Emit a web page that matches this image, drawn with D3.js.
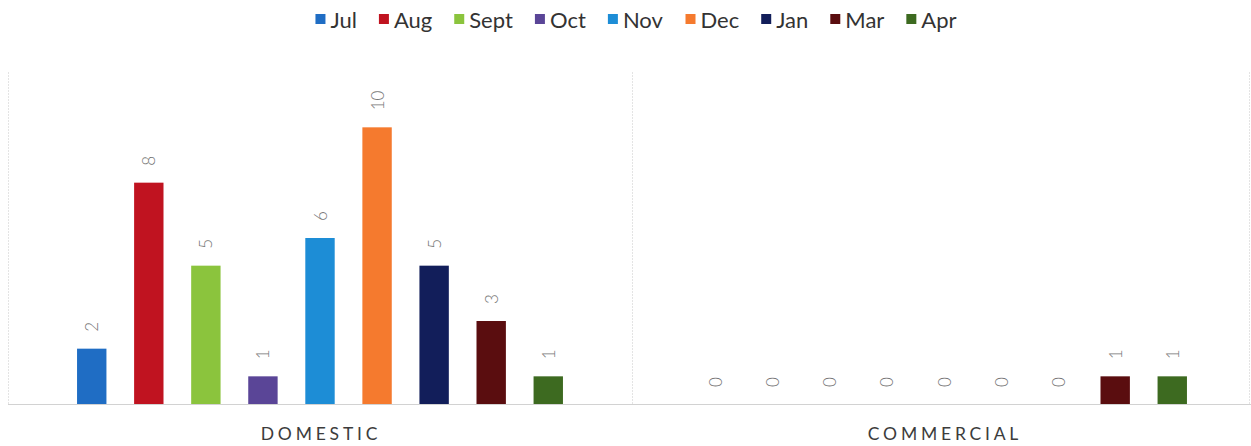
<!DOCTYPE html>
<html>
<head>
<meta charset="utf-8">
<script src="https://cdn.jsdelivr.net/npm/d3@7"></script>
<style>
  html, body { margin: 0; padding: 0; background: #ffffff; }
  svg { display: block; }
</style>
</head>
<body>
<svg id="chart" width="1251" height="446"></svg>
<script>
// Monthly counts per customer type
const categories = ["DOMESTIC", "COMMERCIAL"];
const months = ["Jul", "Aug", "Sept", "Oct", "Nov", "Dec", "Jan", "Mar", "Apr"];
const domesticValues = [2, 8, 5, 1, 6, 10, 5, 3, 1];
const commercialValues = [0, 0, 0, 0, 0, 0, 0, 1, 1];
const monthColors = ["#1f6dc4", "#c01320", "#8bc43d", "#5a4597", "#1d8dd6", "#f57a2e", "#121e5a", "#5a0d0f", "#3d6a20"];
const yTicks = [0, 12];

const seriesByCategory = [domesticValues, commercialValues];

const svg = d3.select("#chart");
const W = 1251, H = 446;
const plot = { left: 8, top: 72, bottom: 404 };
const bandWidth = 624;

const x0 = d3.scaleBand()
  .domain(categories)
  .range([plot.left, plot.left + bandWidth * categories.length])
  .paddingInner(0).paddingOuter(0);

const x1 = d3.scaleBand()
  .domain(months)
  .range([0, x0.bandwidth()])
  .paddingInner(0.485)
  .paddingOuter(1.21);

const y = d3.scaleLinear()
  .domain(d3.extent(yTicks))
  .range([plot.bottom, plot.top]);

const color = d3.scaleOrdinal().domain(months).range(monthColors);

// Category dividers (faint vertical gridlines)
const dividers = [x0.range()[0], ...categories.slice(1).map(c => x0(c)), W - 2];
svg.append("g")
  .selectAll("line")
  .data(dividers)
  .join("line")
  .attr("x1", d => d + 0.5).attr("x2", d => d + 0.5)
  .attr("y1", y(12)).attr("y2", y(0))
  .attr("stroke", "#e4e4e4")
  .attr("stroke-width", 1)
  .attr("stroke-dasharray", "2,1");

// Baseline
svg.append("line")
  .attr("x1", plot.left).attr("x2", W)
  .attr("y1", y(0) + 0.5).attr("y2", y(0) + 0.5)
  .attr("stroke", "#d2d2d2")
  .attr("stroke-width", 1.2);

// Bars and rotated value labels
const groups = svg.append("g")
  .selectAll("g")
  .data(categories.map((c, i) => ({ cat: c, values: seriesByCategory[i] })))
  .join("g")
  .attr("transform", d => `translate(${x0(d.cat)},0)`);

groups.selectAll("rect")
  .data(d => months.map((m, j) => ({ month: m, value: d.values[j] })))
  .join("rect")
  .attr("x", d => x1(d.month))
  .attr("y", d => y(d.value))
  .attr("width", x1.bandwidth())
  .attr("height", d => y(0) - y(d.value))
  .attr("fill", d => color(d.month));

groups.selectAll("text")
  .data(d => months.map((m, j) => ({ month: m, value: d.values[j] })))
  .join("text")
  .attr("transform", d => `translate(${x1(d.month) + x1.bandwidth() / 2},${y(d.value) - 17}) rotate(-90)`)
  .attr("text-anchor", "start")
  .attr("dominant-baseline", "central")
  .attr("font-family", "Lato, 'Open Sans', sans-serif")
  .attr("font-weight", 300)
  .attr("font-size", 17)
  .attr("fill", "#767676")
  .text(d => d.value);

// Category axis labels
svg.append("g")
  .selectAll("text")
  .data(categories)
  .join("text")
  .attr("x", d => x0(d) + x0.bandwidth() / 2 + 1)
  .attr("y", 440)
  .attr("text-anchor", "middle")
  .attr("font-family", "Lato, 'Open Sans', sans-serif")
  .attr("font-size", 17.5)
  .attr("letter-spacing", "3.8px")
  .attr("fill", "#3c3c3c")
  .text(d => d);

// Legend, centred at the top
const legend = svg.append("g").attr("font-family", "Lato, 'Open Sans', sans-serif").attr("font-size", 22);
const items = legend.selectAll("g")
  .data(months)
  .join("g");
items.append("rect")
  .attr("width", 10).attr("height", 10)
  .attr("y", 14)
  .attr("fill", d => color(d));
items.append("text")
  .attr("x", 15)
  .attr("y", 27.5)
  .attr("fill", "#333333")
  .text(d => d);

let cursor = 0;
const itemGap = 22;
items.each(function () {
  const w = this.getBBox().width;
  d3.select(this).attr("transform", `translate(${cursor},0)`);
  cursor += w + itemGap;
});
const legendWidth = cursor - itemGap;
legend.attr("transform", `translate(${636 - legendWidth / 2},0)`);
</script>
</body>
</html>
